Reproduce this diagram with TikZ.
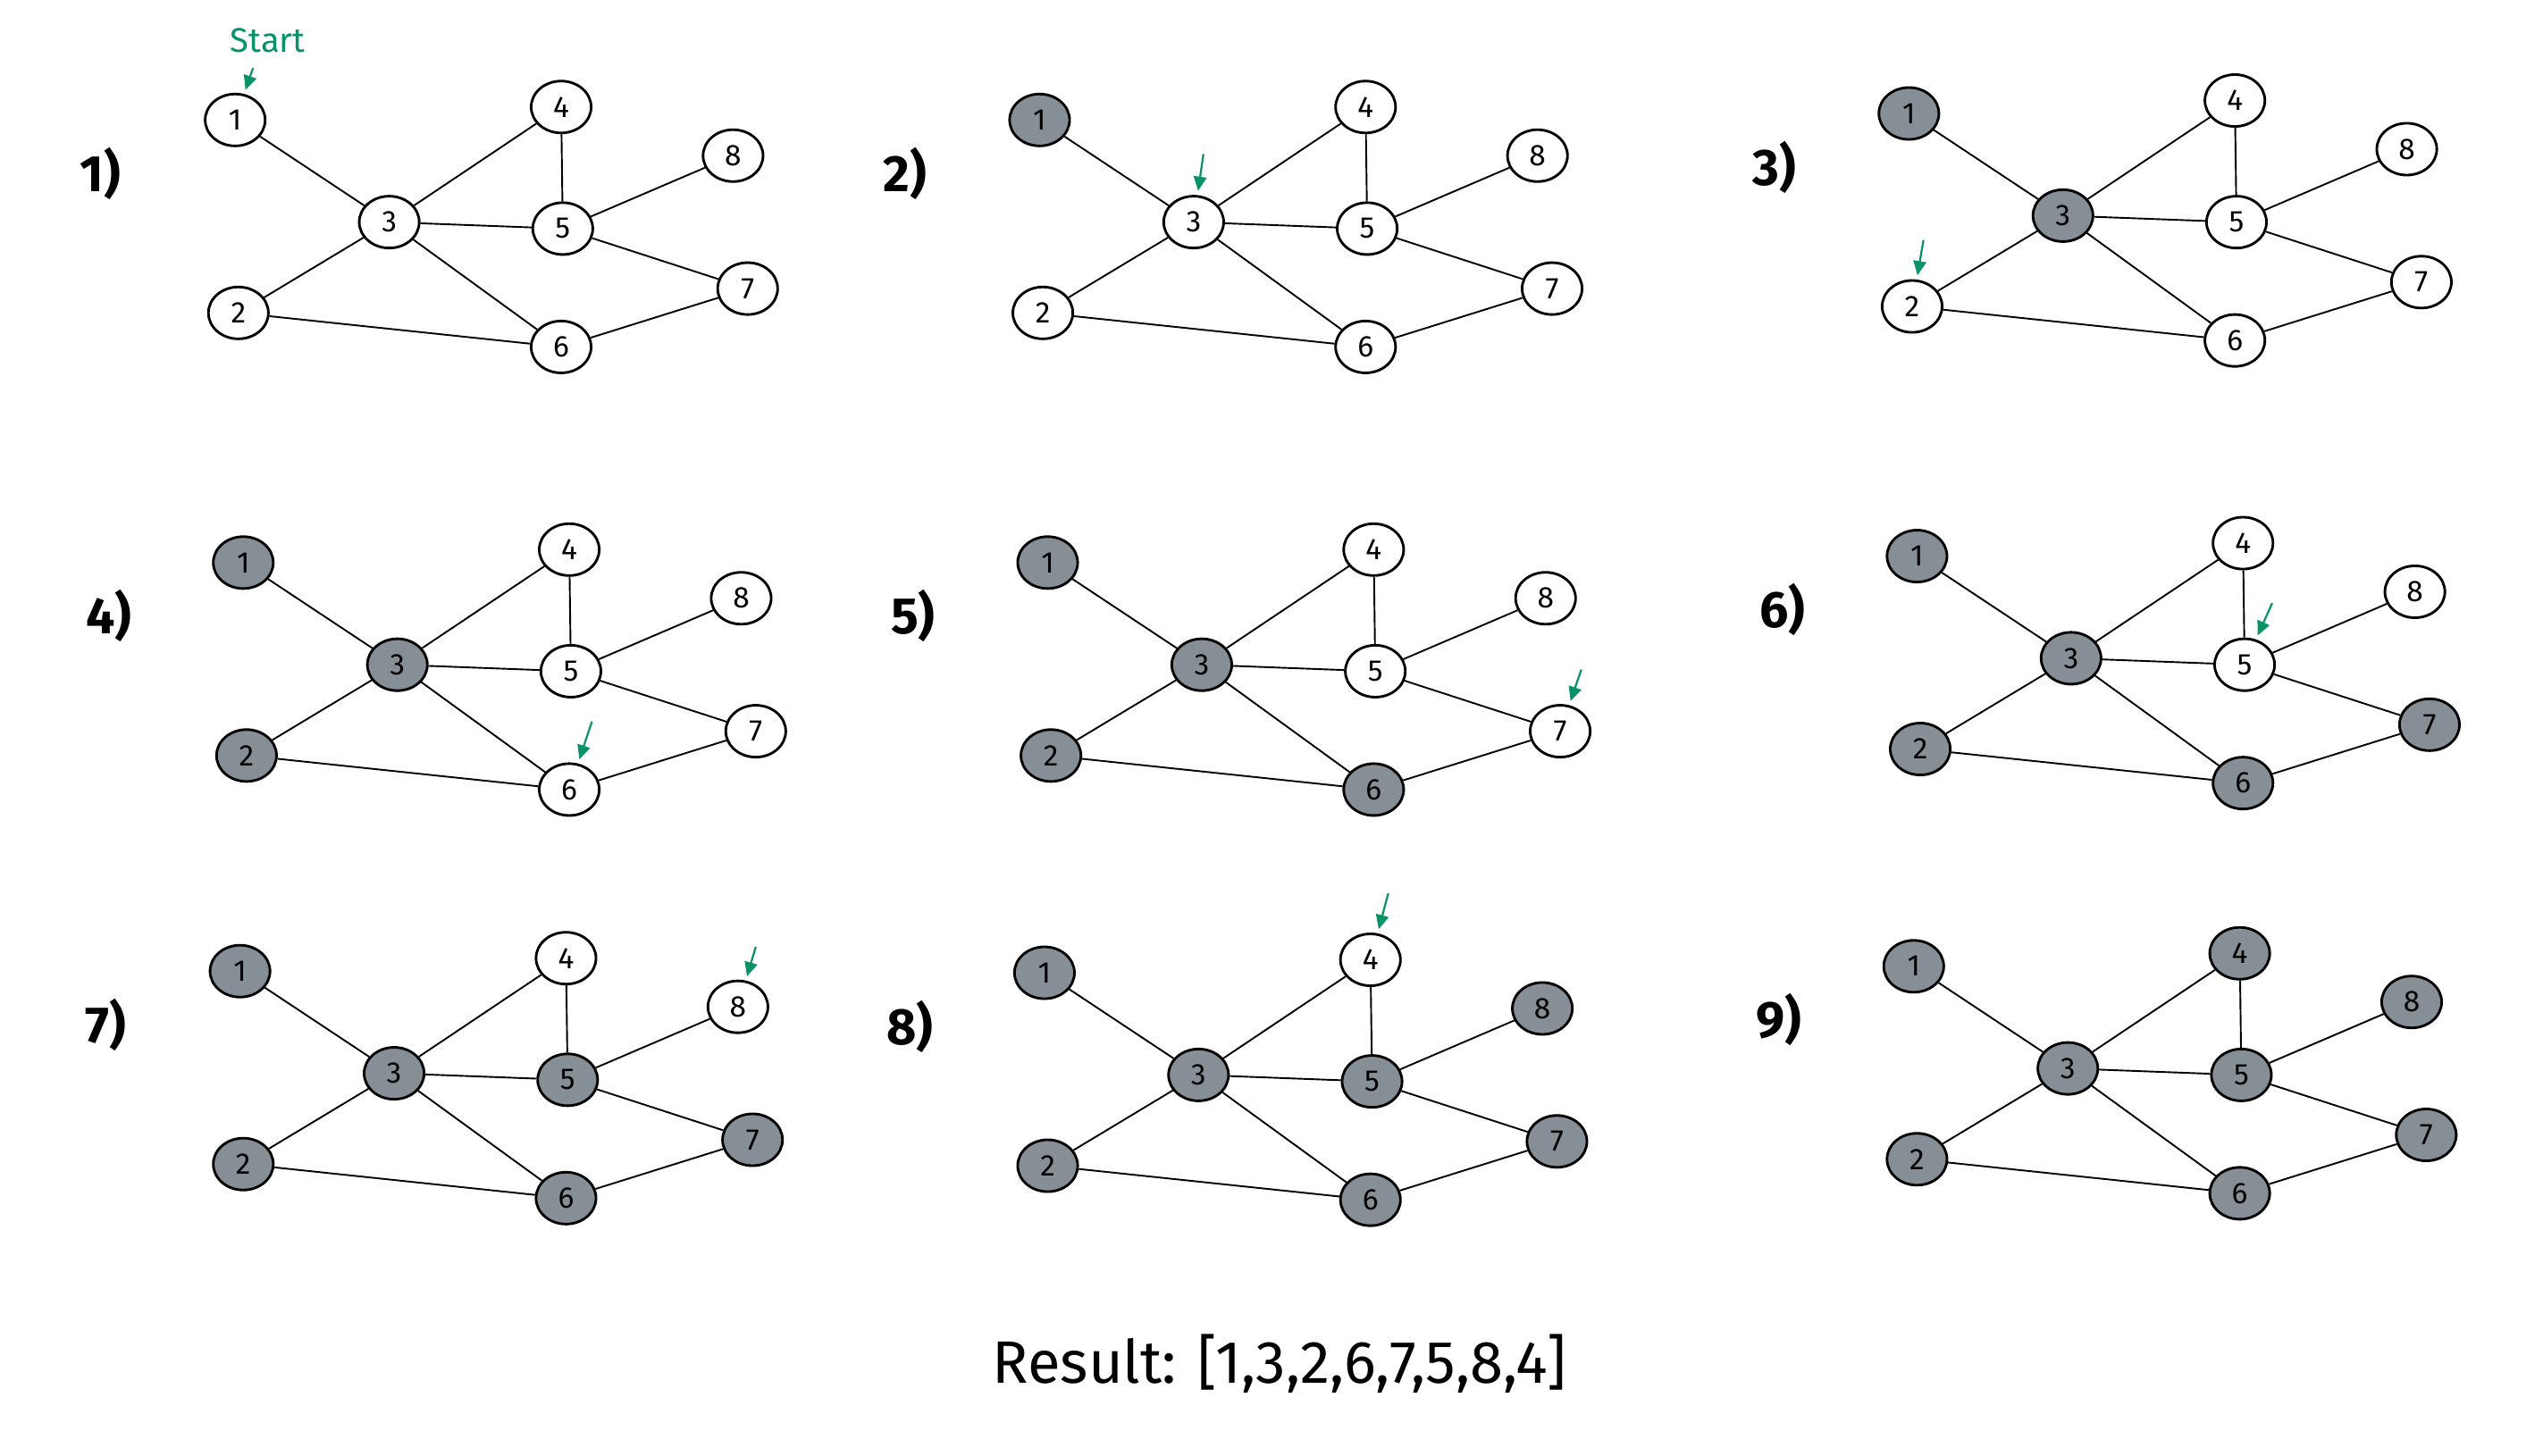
\documentclass[tikz,border=0pt]{standalone}
\usepackage{fontspec}
\setmainfont{Fira Sans}
\usetikzlibrary{arrows.meta,shapes.geometric}
\definecolor{visited}{HTML}{868E96}
\definecolor{cursor}{HTML}{099268}
\tikzset{
  vtx/.style={ellipse,draw=black,line width=0.9pt,minimum width=0.74cm,minimum height=0.64cm,inner sep=0pt,font=\fontsize{10.5}{12}\selectfont},
  link/.style={line width=0.6pt,black},
  pointer/.style={line width=0.7pt,cursor,-{Triangle[length=5pt,width=4.5pt]},shorten >=1.5pt},
  panellabel/.style={font=\fontsize{18}{20}\selectfont\bfseries},
}
% one BFS snapshot: #1 step, #2/#3 offset, #4 target node, #5/#6 pointer tail
\newcommand{\bfspanel}[6]{%
\begin{scope}[shift={(#2,#3)}]
  \node[panellabel] (p#1lab) at (62,107) {#1)};
  \foreach \k/\x/\y/\r in {1/145/74/1,2/147/193/3,3/240/137/2,4/346/66/8,5/347/141/6,6/346/214/4,7/461/178/5,8/452/96/7}{
    \ifnum\r<#1\relax\def\vfill{visited}\else\def\vfill{white}\fi
    \node[vtx,fill=\vfill] (p#1n\k) at (\x,\y) {\k};
  }
  \foreach \a/\b in {1/3,3/4,3/5,3/2,3/6,4/5,5/8,5/7,2/6,6/7}
    \draw[link] (p#1n\a) -- (p#1n\b);
  \ifnum#4>0
    \coordinate (p#1tail) at (#5,#6);
    \draw[pointer] (p#1tail) -- (p#1n#4);
  \fi
\end{scope}}
\begin{document}
\begin{tikzpicture}[x=0.02cm,y=-0.02cm]
  \useasboundingbox[fill=white] (0,0) rectangle (1568,898);
  \bfspanel{1}{0}{0}{1}{156}{42}
  \node[text=cursor,font=\fontsize{12}{14}\selectfont] (start) at (165,25) {Start};
  \bfspanel{2}{496}{0}{3}{246}{95}
  \bfspanel{3}{1032}{-4}{2}{154}{152}
  \bfspanel{4}{5}{273}{6}{360}{172}
  \bfspanel{5}{501}{273}{7}{474}{140}
  \bfspanel{6}{1037}{269}{5}{364}{103}
  \bfspanel{7}{3}{525}{8}{463}{59}
  \bfspanel{8}{499}{526}{4}{357}{25}
  \bfspanel{9}{1035}{522}{0}{0}{0}
  \node[font=\fontsize{21}{24}\selectfont] (result) at (789,841) {Result: [1,3,2,6,7,5,8,4]};
\end{tikzpicture}
\end{document}
